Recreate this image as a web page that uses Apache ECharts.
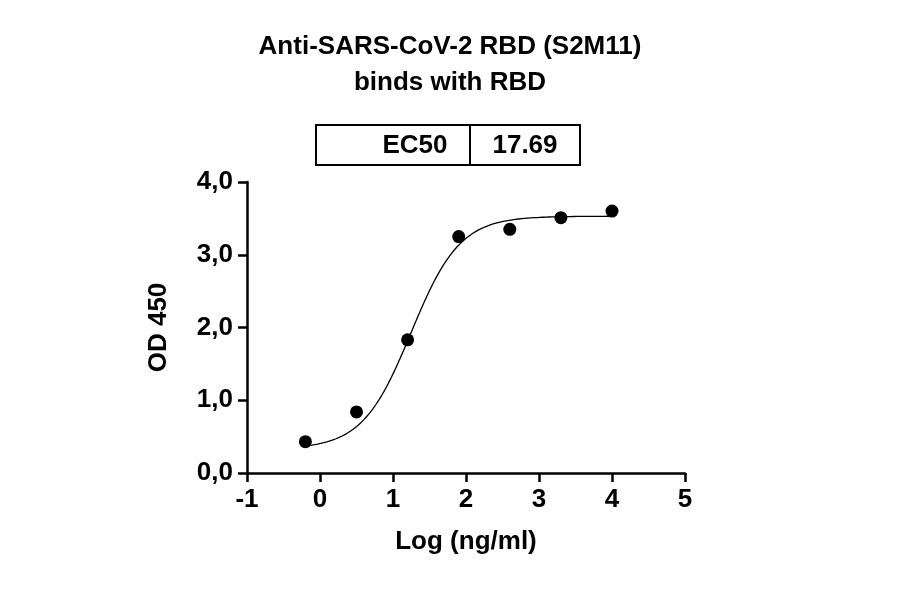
<!DOCTYPE html>
<html><head><meta charset="utf-8">
<script src="https://cdn.jsdelivr.net/npm/echarts@6/dist/echarts.min.js"></script>
<style>html,body{margin:0;background:#fff}#c{width:900px;height:594px}</style>
</head><body><div id="c"></div>
<script>
const logConc = [-0.2, 0.5, 1.2, 1.9, 2.6, 3.3, 4.0];
const od450 = [0.43, 0.84, 1.83, 3.25, 3.35, 3.51, 3.60];
const fitBottom = 0.33, fitTop = 3.53, fitLogEC50 = 1.248, fitHill = 1.3;
const ec50Label = "17.69";
const curve = [];
for (let i = 0; i <= 200; i++) {
  const x = -0.2 + i * 4.2 / 200;
  curve.push([x, fitBottom + (fitTop - fitBottom) / (1 + Math.pow(10, (fitLogEC50 - x) * fitHill))]);
}
const F = 'Liberation Sans, Arial, sans-serif';
const chart = echarts.init(document.getElementById('c'));
chart.setOption({
  animation: false,
  title: { text: 'Anti-SARS-CoV-2 RBD (S2M11)\nbinds with RBD', left: 'center', top: 24,
    textStyle: { fontFamily: F, fontWeight: 'bold', fontSize: 26, lineHeight: 36, color: '#000' } },
  grid: { left: 247, right: 215, top: 182, bottom: 121 },
  xAxis: { type: 'value', min: -1, max: 5, interval: 1, name: 'Log (ng/ml)', nameLocation: 'middle', nameGap: 56,
    nameTextStyle: { fontFamily: F, fontWeight: 'bold', fontSize: 26, color: '#000' },
    axisLine: { onZero: false, lineStyle: { color: '#000', width: 2.5 } },
    axisTick: { length: 9, lineStyle: { color: '#000', width: 2.5 } },
    axisLabel: { fontFamily: F, fontWeight: 'bold', fontSize: 26, color: '#000', margin: 14 },
    splitLine: { show: false } },
  yAxis: { type: 'value', position: 'left', min: 0, max: 4, interval: 1, name: 'OD 450', nameLocation: 'middle', nameGap: 75,
    nameTextStyle: { fontFamily: F, fontWeight: 'bold', fontSize: 26, color: '#000' },
    axisLine: { show: true, onZero: false, lineStyle: { color: '#000', width: 2.5 } },
    axisTick: { show: true, length: 9, lineStyle: { color: '#000', width: 2.5 } },
    axisLabel: { fontFamily: F, fontWeight: 'bold', fontSize: 26, color: '#000', margin: 14,
      formatter: v => v.toFixed(1).replace('.', ',') },
    splitLine: { show: false } },
  graphic: [
    { type: 'rect', shape: { x: 316, y: 125, width: 264, height: 40 }, style: { fill: '#fff', stroke: '#000', lineWidth: 2 } },
    { type: 'line', shape: { x1: 470, y1: 125, x2: 470, y2: 165 }, style: { stroke: '#000', lineWidth: 2 } },
    { type: 'text', x: 415, y: 146, style: { text: 'EC50', fontFamily: F, fontWeight: 'bold', fontSize: 26, fill: '#000', align: 'center', verticalAlign: 'middle' } },
    { type: 'text', x: 525, y: 146, style: { text: ec50Label, fontFamily: F, fontWeight: 'bold', fontSize: 26, fill: '#000', align: 'center', verticalAlign: 'middle' } }
  ],
  series: [
    { type: 'line', data: curve, showSymbol: false, lineStyle: { color: '#000', width: 1.3 }, silent: true },
    { type: 'scatter', data: logConc.map((x, i) => [x, od450[i]]), symbolSize: 13, itemStyle: { color: '#000', opacity: 1 } }
  ]
});
</script></body></html>
